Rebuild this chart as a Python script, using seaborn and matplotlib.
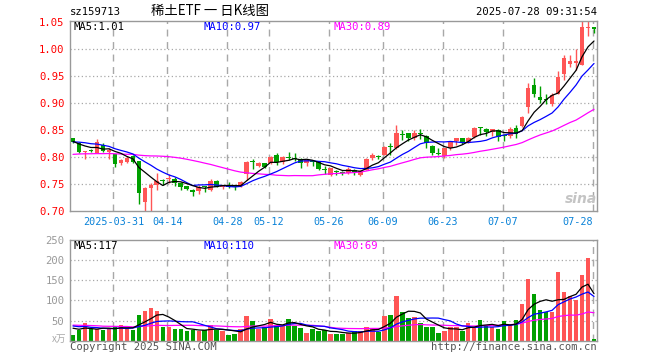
import numpy as np
import pandas as pd
import matplotlib
matplotlib.use("Agg")
import matplotlib.pyplot as plt
import seaborn as sns

# ---------------- data ----------------
tick_labels = ["2025-03-31", "04-14", "04-28", "05-12", "05-26", "06-09", "06-23", "07-07", "07-28"]
tick_pos = [7, 16, 26, 33, 43, 52, 62, 72, 87]

open_ = [0.835, 0.826, 0.809, 0.8125, 0.808, 0.822, 0.810, 0.805, 0.788, 0.791,
         0.801, 0.792, 0.717, 0.742, 0.749, 0.756, 0.760, 0.760, 0.752, 0.746,
         0.739, 0.737, 0.746, 0.739, 0.756, 0.744, 0.749, 0.747, 0.747, 0.769,
         0.792, 0.784, 0.788, 0.788, 0.804, 0.790, 0.800, 0.799, 0.797, 0.788,
         0.793, 0.790, 0.777, 0.767, 0.774, 0.772, 0.771, 0.776, 0.766, 0.776,
         0.799, 0.802, 0.804, 0.821, 0.816, 0.843, 0.844, 0.835, 0.845, 0.838,
         0.821, 0.808, 0.801, 0.816, 0.829, 0.835, 0.828, 0.837, 0.855, 0.852,
         0.846, 0.850, 0.840, 0.838, 0.853, 0.857, 0.892, 0.933, 0.912, 0.907,
         0.898, 0.917, 0.953, 0.972, 0.974, 0.971, 1.039, 1.040]
high = [0.836, 0.827, 0.812, 0.815, 0.833, 0.825, 0.816, 0.806, 0.796, 0.801,
        0.803, 0.793, 0.744, 0.752, 0.771, 0.760, 0.769, 0.763, 0.753, 0.747,
        0.740, 0.748, 0.747, 0.760, 0.757, 0.749, 0.753, 0.748, 0.755, 0.792,
        0.796, 0.791, 0.789, 0.801, 0.807, 0.801, 0.809, 0.807, 0.798, 0.797,
        0.795, 0.791, 0.784, 0.780, 0.776, 0.774, 0.781, 0.777, 0.776, 0.798,
        0.808, 0.803, 0.820, 0.825, 0.859, 0.850, 0.845, 0.850, 0.852, 0.840,
        0.822, 0.817, 0.817, 0.829, 0.836, 0.836, 0.837, 0.855, 0.856, 0.853,
        0.852, 0.851, 0.843, 0.855, 0.859, 0.875, 0.937, 0.946, 0.931, 0.917,
        0.919, 0.959, 0.988, 0.988, 1.000, 1.051, 1.051, 1.041]
low = [0.825, 0.807, 0.796, 0.809, 0.807, 0.810, 0.797, 0.781, 0.785, 0.789,
       0.788, 0.713, 0.700, 0.700, 0.739, 0.749, 0.752, 0.746, 0.738, 0.738,
       0.727, 0.731, 0.736, 0.737, 0.744, 0.740, 0.742, 0.739, 0.745, 0.757,
       0.777, 0.782, 0.779, 0.787, 0.786, 0.787, 0.795, 0.792, 0.779, 0.783,
       0.784, 0.776, 0.768, 0.765, 0.766, 0.766, 0.769, 0.766, 0.764, 0.775,
       0.794, 0.797, 0.803, 0.804, 0.815, 0.832, 0.830, 0.832, 0.834, 0.817,
       0.804, 0.803, 0.799, 0.813, 0.822, 0.824, 0.826, 0.835, 0.840, 0.838,
       0.838, 0.830, 0.830, 0.836, 0.835, 0.856, 0.882, 0.911, 0.900, 0.899,
       0.894, 0.916, 0.943, 0.966, 0.962, 0.970, 1.024, 1.030]
close = [0.827, 0.810, 0.811, 0.812, 0.828, 0.812, 0.813, 0.787, 0.794, 0.799,
         0.790, 0.733, 0.743, 0.749, 0.756, 0.755, 0.762, 0.752, 0.745, 0.740,
         0.736, 0.745, 0.744, 0.756, 0.745, 0.746, 0.745, 0.744, 0.754, 0.791,
         0.790, 0.789, 0.781, 0.800, 0.790, 0.800, 0.798, 0.797, 0.789, 0.795,
         0.791, 0.778, 0.775, 0.779, 0.772, 0.771, 0.778, 0.773, 0.774, 0.797,
         0.803, 0.800, 0.819, 0.819, 0.844, 0.840, 0.835, 0.844, 0.843, 0.825,
         0.807, 0.806, 0.816, 0.828, 0.835, 0.828, 0.836, 0.854, 0.854, 0.846,
         0.851, 0.837, 0.838, 0.852, 0.843, 0.874, 0.928, 0.917, 0.906, 0.906,
         0.914, 0.949, 0.983, 0.978, 0.978, 1.040, 1.041, 1.037]
volume = [15, 27, 45, 28, 28, 27, 28, 37, 40, 28,
          27, 65, 73, 80, 73, 35, 33, 30, 30, 23,
          27, 23, 27, 40, 27, 23, 15, 17, 28, 62,
          48, 30, 33, 55, 38, 40, 55, 37, 32, 20,
          28, 25, 27, 16, 17, 17, 18, 25, 25, 35,
          32, 22, 62, 65, 110, 72, 57, 60, 45, 35,
          35, 20, 25, 33, 33, 25, 45, 33, 52, 40,
          33, 30, 50, 42, 52, 90, 152, 117, 77, 72,
          72, 170, 122, 112, 100, 162, 205, 5]

# earlier sessions (left of the window), estimated from where the MA lines start
hist_close = [0.79, 0.80, 0.81, 0.82, 0.815, 0.805, 0.80, 0.81, 0.813,
              0.79, 0.78, 0.77, 0.765, 0.76, 0.77, 0.785,
              0.79, 0.79, 0.80, 0.804,
              0.815, 0.822, 0.830, 0.835, 0.833,
              0.834, 0.830, 0.826, 0.828]
hist_volume = [40, 52, 38, 45, 60, 35, 42, 48, 30, 55, 44, 38, 50, 41, 47, 39,
               20, 25, 22, 24,
               45, 38, 50, 35, 42,
               40, 30, 34, 36]

price_ticks = [0.70, 0.75, 0.80, 0.85, 0.90, 0.95, 1.00, 1.05]
vol_ticks = [50, 100, 150, 200, 250]

# ---------------- derived ----------------
n = len(close)
idx = np.arange(n)
cl_all = pd.Series(hist_close + close)
vo_all = pd.Series(hist_volume + volume, dtype=float)
ma = {k: cl_all.rolling(k).mean().to_numpy()[-n:] for k in (5, 10, 30)}
vma = {k: vo_all.rolling(k).mean().to_numpy()[-n:] for k in (5, 10, 30)}

RED = "#ff5555"
GREEN = "#00a000"
up = [c >= o for o, c in zip(open_, close)]
colors = [RED if u else GREEN for u in up]

# ---------------- style ----------------
sns.set_style("white")
plt.rcParams["font.family"] = ["DejaVu Sans Mono", "DejaVu Sans"]
MONO = ["DejaVu Sans Mono", "Noto Sans CJK SC"]
CJK = ["Noto Sans CJK SC", "DejaVu Sans"]

W, H = 660, 360
fig = plt.figure(figsize=(6.6, 3.6), dpi=100)
fig.patch.set_facecolor("white")


def rect(l, t, r, b):
    return [l / W, 1 - b / H, (r - l) / W, (b - t) / H]


def ft(x, y, s, **kw):
    fig.text(x / W, 1 - y / H, s, **kw)


ax1 = fig.add_axes(rect(70, 20.7, 597, 211))
ax2 = fig.add_axes(rect(70, 240, 597, 340.7))

GRID = "#a8a8a8"
for ax in (ax1, ax2):
    ax.set_xlim(-0.5, n - 0.5)
    for p in tick_pos:
        ax.axvline(p - 0.25, color=GRID, lw=1.0, ls=(0, (5, 4)), zorder=0)
    for s in ax.spines.values():
        s.set_color("#999999")
        s.set_linewidth(1.0)
    ax.set_facecolor("white")

# ---- price panel ----
ax1.set_ylim(0.70, 1.0524)
for v in price_ticks[1:-1]:
    ax1.axhline(v, color=GRID, lw=0.9, ls=(0, (1, 2)), zorder=0)

ax1.vlines(idx, low, high, colors=colors, lw=1.0, zorder=2)
body_bottom = [min(o, c) for o, c in zip(open_, close)]
body_h = [max(abs(c - o), 0.0016) for o, c in zip(open_, close)]
ax1.bar(idx, body_h, bottom=body_bottom, width=0.78, color=colors, linewidth=0, zorder=3)

for k, col in ((30, "#ff00ff"), (10, "#0000ff"), (5, "#000000")):
    sns.lineplot(x=idx, y=ma[k], ax=ax1, color=col, lw=0.9, zorder=4, legend=False)

ax1.set_yticks(price_ticks)
ax1.set_yticklabels([f"{v:.2f}" for v in price_ticks])
ax1.tick_params(axis="y", length=0, pad=4, labelcolor="#ff0000", labelsize=7.6)
ax1.set_xticks([p - 0.25 for p in tick_pos])
ax1.set_xticklabels(tick_labels)
ax1.tick_params(axis="x", length=0, pad=4, labelcolor="#0a82d8", labelsize=7.3)
for lab in ax1.get_xticklabels()[-1:]:
    lab.set_horizontalalignment("right")
ax1.set_xlabel("")
ax1.set_ylabel("")

# ---- volume panel ----
ax2.set_ylim(0, 250)
for v in vol_ticks[:-1]:
    ax2.axhline(v, color=GRID, lw=0.9, ls=(0, (1, 2)), zorder=0)
ax2.bar(idx, volume, width=0.75, color=colors, linewidth=0, zorder=2)
for k, col in ((30, "#ff00ff"), (10, "#0000ff"), (5, "#000000")):
    sns.lineplot(x=idx, y=vma[k], ax=ax2, color=col, lw=0.9, zorder=4, legend=False)
ax2.set_yticks(vol_ticks)
ax2.set_yticklabels([str(v) for v in vol_ticks])
ax2.tick_params(axis="y", length=0, pad=4, labelcolor="#999999", labelsize=7.6)
ax2.set_xticks([])
ax2.set_xlabel("")
ax2.set_ylabel("")

# ---- texts ----
ft(70, 12, "sz159713", fontsize=7.6, color="#000000", family=MONO, va="center", ha="left")
ft(210, 11, "稀土ETF 一 日K线图", fontsize=9.6, color="#000000", family=CJK, va="center", ha="center")
ft(597, 12, "2025-07-28 09:31:54", fontsize=7.6, color="#000000", family=MONO, va="center", ha="right")

ft(74, 27, f"MA5:{ma[5][-1]:.2f}", fontsize=7.6, color="#000000", family=MONO, va="center")
ft(204, 27, f"MA10:{ma[10][-1]:.2f}", fontsize=7.6, color="#0000ff", family=MONO, va="center")
ft(334, 27, f"MA30:{ma[30][-1]:.2f}", fontsize=7.6, color="#ff00ff", family=MONO, va="center")

ft(74, 246, f"MA5:{vma[5][-1]:.0f}", fontsize=7.6, color="#000000", family=MONO, va="center")
ft(204, 246, f"MA10:{vma[10][-1]:.0f}", fontsize=7.6, color="#0000ff", family=MONO, va="center")
ft(334, 246, f"MA30:{vma[30][-1]:.0f}", fontsize=7.6, color="#ff00ff", family=MONO, va="center")

ft(66, 339, "x万", fontsize=7.0, color="#aaaaaa", family=CJK, va="center", ha="right")
ft(70, 347, "Copyright 2025 SINA.COM", fontsize=7.6, color="#555555", family=MONO, va="center", ha="left")
ft(597, 347, "http://finance.sina.com.cn", fontsize=7.6, color="#555555", family=MONO, va="center", ha="right")

ft(581, 199, "sina", fontsize=10, color="#c4c4c4", family=["DejaVu Sans"], style="italic",
   weight="bold", va="center", ha="center")

fig.savefig("out.png", dpi=100, facecolor="white")
